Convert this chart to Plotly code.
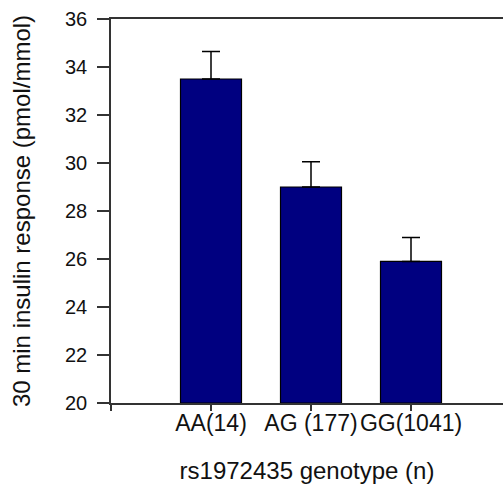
import plotly.graph_objects as go

categories = ["AA(14)", "AG (177)", "GG(1041)"]
means = [33.5, 29.0, 25.9]
sem = [1.15, 1.05, 1.0]
x_pos = [1, 2, 3]
tick_vals = [0, 1, 2, 3]
tick_text = [""] + categories
y_ticks = [20, 22, 24, 26, 28, 30, 32, 34, 36]

fam = "Arial, Liberation Sans, sans-serif"
col = "#111111"

fig = go.Figure()
fig.add_trace(go.Bar(
    x=x_pos, y=[m - 20 for m in means], base=20,
    width=0.61,
    marker=dict(color="#000080", line=dict(color="#000000", width=1.2)),
    error_y=dict(type="data", symmetric=False, array=sem, arrayminus=[0]*len(sem),
                 color="#000000", thickness=1.5, width=9),
    hoverinfo="skip",
))

fig.update_layout(
    width=503, height=484,
    margin=dict(l=111, r=0, t=19, b=81),
    paper_bgcolor="white", plot_bgcolor="white",
    showlegend=False,
    font=dict(family=fam, size=18, color=col),
)
fig.update_xaxes(
    range=[0, 3.92], tickvals=tick_vals, ticktext=tick_text,
    showline=True, linecolor="#333333", linewidth=1.5, mirror=True,
    ticks="outside", ticklen=6, tickwidth=1.5, tickcolor="#333333",
    showgrid=False, zeroline=False,
    title=dict(text="rs1972435 genotype (n)", font=dict(family=fam, size=24, color=col), standoff=28),
    tickfont=dict(family=fam, size=23, color=col), ticklabelstandoff=-7,
)
fig.update_yaxes(
    range=[20, 36], tickvals=y_ticks,
    showline=True, linecolor="#333333", linewidth=1.5,
    ticks="outside", ticklen=12, tickwidth=1.5, tickcolor="#333333",
    showgrid=False, zeroline=False,
    title=dict(text="30 min insulin response (pmol/mmol)", font=dict(family=fam, size=24, color=col), standoff=28),
    tickfont=dict(family=fam, size=20, color=col), ticklabelstandoff=6,
)

fig.write_html("out.html")
